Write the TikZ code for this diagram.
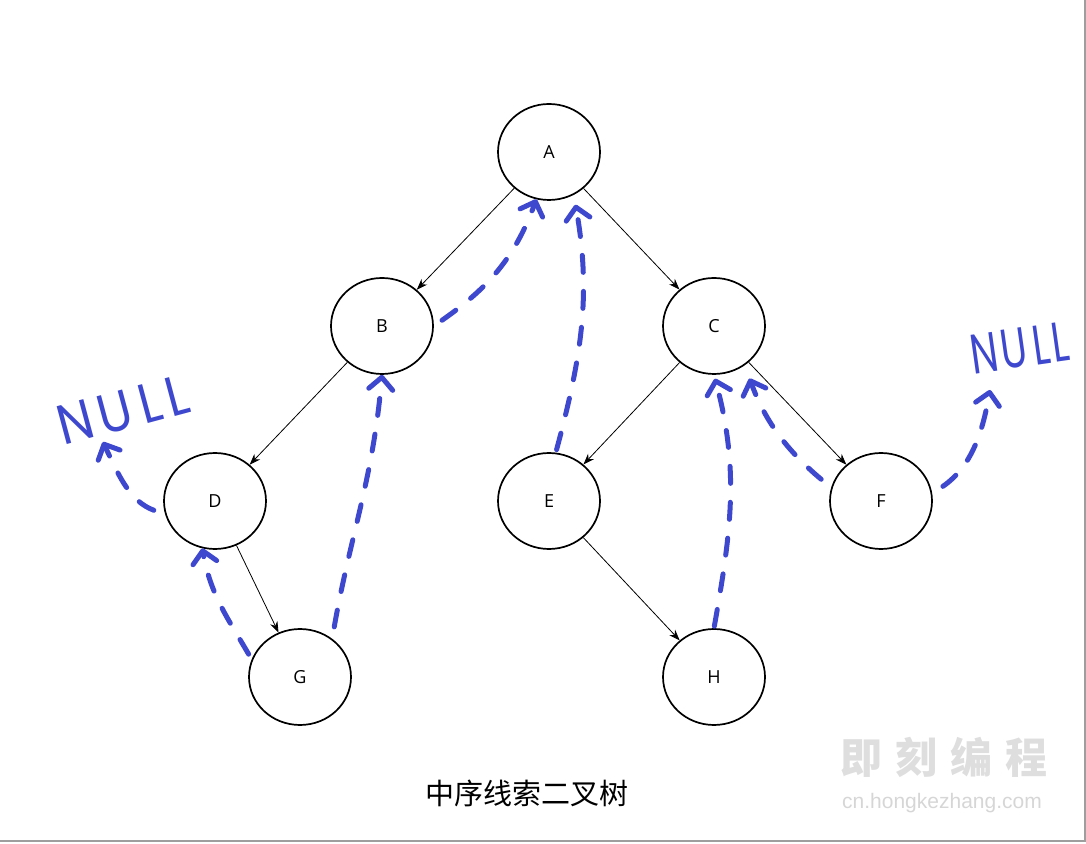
\documentclass[tikz,border=0pt]{standalone}
\usepackage{fontspec}
\setmainfont{Open Sans}
\newfontfamily\cjkfont{Noto Sans CJK SC}
\newfontfamily\handfont{Poppins}
\newfontfamily\webfont{Liberation Sans}
\usetikzlibrary{arrows.meta,shapes.geometric}
\definecolor{threadblue}{RGB}{62,72,206}

\begin{document}
\begin{tikzpicture}[x=1pt,y=1pt,
  vertex/.style={ellipse,draw,line width=1.7pt,minimum width=102pt,minimum height=96pt,
                 inner sep=0pt,font=\fontsize{18}{20}\selectfont},
  link/.style={-{Stealth[length=11pt,width=8pt]},line width=0.8pt},
  thread/.style={draw=threadblue,line width=5pt,line cap=round,dash pattern=on 17pt off 19pt,
                 -{Straight Barb[length=12pt,width=24pt,round]}},
  nulltext/.style={text=threadblue,font=\handfont\fontsize{56}{56}\selectfont,inner sep=0pt}]
  \useasboundingbox (0,0) rectangle (1086,843);
  \draw[black!38,line width=2pt] (1085,843) -- (1085,2) -- (0,2);

  % tree
  \node[vertex] (A) at (549,691) {A};
  \node[vertex] (B) at (382,517) {B};
  \node[vertex] (C) at (714,517) {C};
  \node[vertex] (D) at (215,342) {D};
  \node[vertex] (E) at (549,342) {E};
  \node[vertex] (F) at (881,342) {F};
  \node[vertex] (G) at (300,166) {G};
  \node[vertex] (H) at (714,166) {H};
  \foreach \a/\b in {A/B,A/C,B/D,C/E,C/F,D/G,E/H}
    \draw[link] (\a) -- (\b);

  % threads
  \node[nulltext,rotate=15,xscale=0.9] (nullL) at (123,433) {N\hspace{6pt}U\hspace{10pt}L\hspace{6pt}L};
  \node[nulltext,rotate=8,xscale=0.7] (nullR) at (1020,495) {N\hspace{4pt}U\hspace{8pt}L\hspace{4pt}L};
  \coordinate (nullLtip) at (103,401);
  \coordinate (nullRtip) at (990,453);
  \draw[thread,shorten <=12pt] (D.195) to[out=160,in=-65] (nullLtip);
  \draw[thread,shorten <=6pt] (G.160) to[out=120,in=-80] (D.255);
  \draw[thread,shorten <=12pt] (G.50) to[out=80,in=-95] (B.south);
  \draw[thread,shorten <=10pt] (B.east) to[out=35,in=-110] (A.255);
  \draw[thread,shorten <=3pt,shorten >=10pt] (E.82) to[out=75,in=-80] (A.-60);
  \draw[thread,shorten <=2pt,shorten >=4pt] (H.north) to[out=80,in=-75] (C.south);
  \draw[thread,shorten <=13pt,shorten >=14pt] (F.165) to[out=140,in=-70] (C.-52);
  \draw[thread,shorten <=13pt] (F.8) to[out=35,in=-100] (nullRtip);

  % caption and mark
  \node[font=\cjkfont\fontsize{29}{30}\selectfont] (title) at (527,50) {中序线索二叉树};
  \node[font=\cjkfont\bfseries\fontsize{42}{44}\selectfont,text=black!13] (mark) at (944,86)
       {即\hspace{13pt}刻\hspace{13pt}编\hspace{13pt}程};
  \node[font=\webfont\fontsize{21}{22}\selectfont,text=black!16] (site) at (942,40) {cn.hongkezhang.com};
\end{tikzpicture}
\end{document}
